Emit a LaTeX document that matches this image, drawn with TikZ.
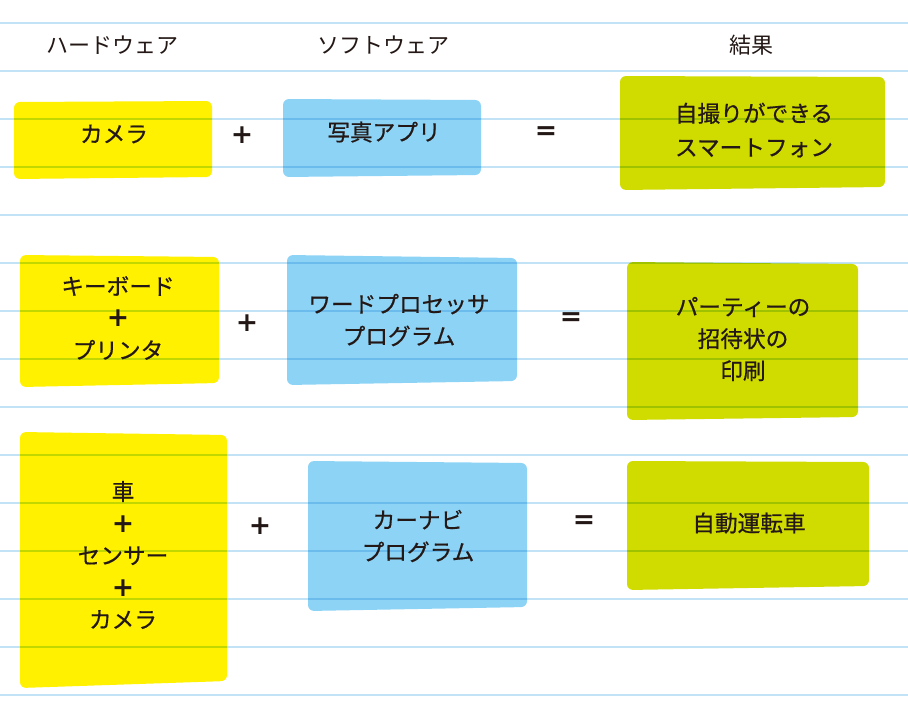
\documentclass[tikz,border=0pt]{standalone}
\usepackage{fontspec}
\newfontfamily\jp{Noto Sans CJK JP}
\newfontfamily\jpb[FakeBold=0.6]{Noto Sans CJK JP}
\newfontfamily\opfont{DejaVu Sans}
\definecolor{hwyellow}{HTML}{FFF100}
\definecolor{swblue}{HTML}{8DD3F5}
\definecolor{resgreen}{HTML}{D0DB00}
\definecolor{ruleline}{HTML}{C2E3F6}
\definecolor{ink}{HTML}{231815}
\newcommand{\bigplus}{{\opfont\bfseries\fontsize{20}{20}\selectfont +}}
\tikzset{
  card/.style={rounded corners=4.5pt, draw=none},
  hdr/.style={font=\jp\fontsize{16.5}{18}\selectfont, text=ink, inner sep=0pt},
  lbl/.style={font=\jpb\fontsize{17}{24}\selectfont, text=ink, align=center, inner sep=0pt},
  op/.style={font=\opfont\bfseries\fontsize{20}{20}\selectfont, text=ink, inner sep=0pt},
}
\begin{document}
\begin{tikzpicture}[x=0.75pt,y=-0.75pt]
\useasboundingbox (0,0) rectangle (908,708);
\fill[white] (0,0) rectangle (908,708);
% headers
\node[hdr] (hhw) at (112.5,45) {ハードウェア};
\node[hdr] (hsw) at (383,45) {ソフトウェア};
\node[hdr] (hres) at (751,45) {結果};
% row 1 cards
\fill[card, hwyellow] (14,102) -- (212,101) -- (212,177) -- (14,179) -- cycle;
\fill[card, swblue] (283,99) -- (481,100) -- (481,175) -- (283,177) -- cycle;
\fill[card, resgreen] (620,76) -- (885,77) -- (885,187) -- (620,190) -- cycle;
% row 2 cards
\fill[card, hwyellow] (20,255) -- (219,257) -- (219,383) -- (20,387) -- cycle;
\fill[card, swblue] (287,255) -- (517,258) -- (517,381) -- (287,385) -- cycle;
\fill[card, resgreen] (627,262) -- (858,264) -- (858,417) -- (627,420) -- cycle;
% row 3 cards
\fill[card, hwyellow] (20,432) -- (227,435) -- (227,681) -- (20,688) -- cycle;
\fill[card, swblue] (308,461) -- (527,463) -- (527,607) -- (308,611) -- cycle;
\fill[card, resgreen] (627,461) -- (869,462) -- (869,586) -- (627,590) -- cycle;
% ruled lines, multiplied over cards
\begin{scope}[blend mode=multiply]
\foreach \k in {0,...,14}{
  \draw[ruleline, line width=1.5pt] (0,22.5+48*\k) -- (908,22.5+48*\k);
}
\end{scope}
% row 1 text
\node[lbl] (a1) at (114,134) {カメラ};
\node[op] (p1) at (242,135) {+};
\node[lbl] (b1) at (384,132) {写真アプリ};
\node[op] (e1) at (546,133) {=};
\node[lbl, font=\jpb\fontsize{17}{25.5}\selectfont] (c1) at (754,130) {自撮りができる\\スマートフォン};
% row 2 text
\node[lbl] (a2) at (118,318) {キーボード\\\bigplus\\プリンタ};
\node[op] (p2) at (247,323) {+};
\node[lbl] (b2) at (399,320) {ワードプロセッサ\\プログラム};
\node[op] (e2) at (571,319) {=};
\node[lbl] (c2) at (743,339) {パーティーの\\招待状の\\印刷};
% row 3 text
\node[lbl] (a3) at (123,555) {車\\\bigplus\\センサー\\\bigplus\\カメラ};
\node[op] (p3) at (260,526) {+};
\node[lbl] (b3) at (418,536) {カーナビ\\プログラム};
\node[op] (e3) at (584,522) {=};
\node[lbl] (c3) at (749,523) {自動運転車};
\end{tikzpicture}
\end{document}
